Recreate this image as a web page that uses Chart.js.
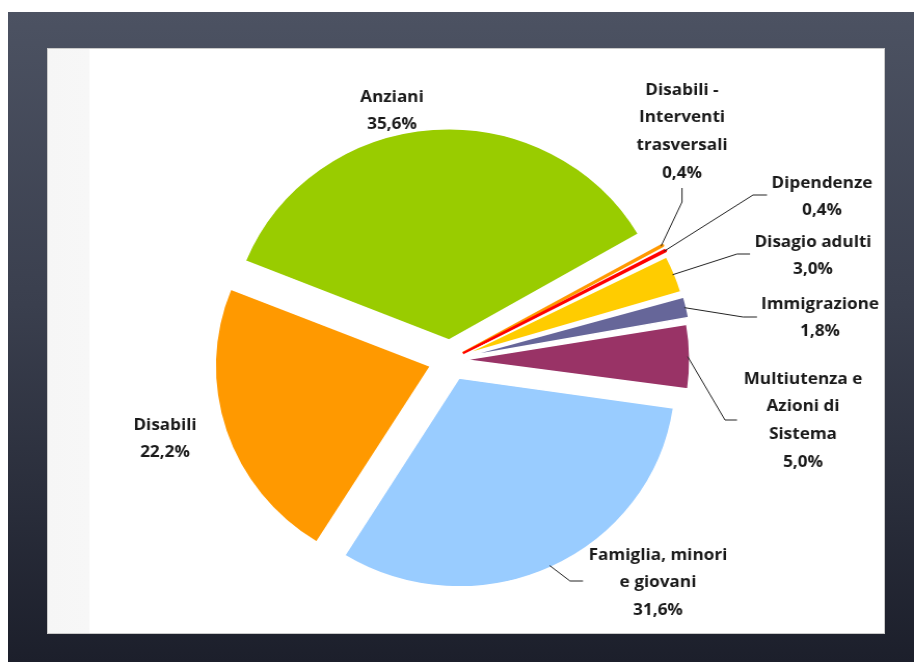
<!DOCTYPE html>
<html>
<head>
<meta charset="utf-8">
<script src="https://cdn.jsdelivr.net/npm/chart.js@4/dist/chart.umd.min.js"></script>
<style>
  body { margin: 0; background: #fff; width: 914px; height: 662px; overflow: hidden; position: relative; }
  .frame { position: absolute; left: 8px; top: 12px; width: 906px; height: 650px;
           background: linear-gradient(#4c5262, #3a3f4e 45%, #1c1f2b); }
  .panel { position: absolute; left: 47px; top: 48px; width: 836px; height: 584px;
           background: linear-gradient(90deg, #f6f6f6 0, #f7f7f7 41px, #fff 42px);
           border: 1px solid #c9c9c9; }
  canvas { position: absolute; left: 0; top: 0; }
</style>
</head>
<body>
<div class="frame"></div>
<div class="panel"></div>
<!-- the original picture is a little wider than tall, so the canvas is stretched -->
<canvas id="pie" width="880" height="662" style="width:914px;height:662px"></canvas>
<script>
/* data, clockwise from the thin slices at upper right */
const categories = [
  "Disabili - Interventi trasversali",
  "Dipendenze",
  "Disagio adulti",
  "Immigrazione",
  "Multiutenza e Azioni di Sistema",
  "Famiglia, minori e giovani",
  "Disabili",
  "Anziani"
];
const shares = [0.4, 0.4, 3.0, 1.8, 5.0, 31.6, 22.2, 35.6];
const percentLabels = ["0,4%", "0,4%", "3,0%", "1,8%", "5,0%", "31,6%", "22,2%", "35,6%"];
const nameLines = [
  ["Disabili -", "Interventi", "trasversali"],
  ["Dipendenze"],
  ["Disagio adulti"],
  ["Immigrazione"],
  ["Multiutenza e", "Azioni di", "Sistema"],
  ["Famiglia, minori", "e giovani"],
  ["Disabili"],
  ["Anziani"]
];
const colors = ["#ff9900", "#ff0000", "#ffcc00", "#666699", "#993366", "#99ccff", "#ff9900", "#99cc00"];

const SX = 914 / 880; // horizontal stretch of the canvas

// label placement in page pixels (text centre x, first line y) + leader elbow/end
const labelLayout = [
  { x: 682, y: 90,  leader: [[682, 202], [682, 188]] },
  { x: 822, y: 183, leader: [[753, 195], [767, 195]] },
  { x: 813, y: 242, leader: [[737, 254], [750, 254]] },
  { x: 820, y: 304, leader: [[743, 317], [757, 317]] },
  { x: 803, y: 379, leader: [[725, 420], [737, 420]] },
  { x: 658, y: 555, leader: [[570, 581], [583, 581]] },
  { x: 165, y: 425, leader: null },
  { x: 392, y: 97,  leader: null }
];

const labelPlugin = {
  id: 'pieLabels',
  afterDatasetsDraw(chart) {
    const ctx = chart.ctx;
    const arcs = chart.getDatasetMeta(0).data;
    ctx.save();
    ctx.font = "bold 16.5px 'Open Sans'";
    ctx.fillStyle = "#1a1a1a";
    ctx.textAlign = "center";
    ctx.textBaseline = "middle";
    arcs.forEach((arc, i) => {
      const lay = labelLayout[i];
      const lines = nameLines[i].concat([percentLabels[i]]);
      lines.forEach((t, k) => ctx.fillText(t, lay.x / SX, lay.y + k * 27.6));
      if (lay.leader) {
        const p = arc.getProps(['x', 'y', 'startAngle', 'endAngle', 'outerRadius', 'circumference']);
        const mid = (p.startAngle + p.endAngle) / 2;
        const t = (arc.options.offset || 0) / 4;
        const grow = t * (1 - Math.sin(Math.min(Math.PI, p.circumference)));
        const r = p.outerRadius + t + grow - 2;
        ctx.beginPath();
        ctx.strokeStyle = "#222";
        ctx.lineWidth = 1;
        ctx.moveTo(p.x + Math.cos(mid) * r, p.y + Math.sin(mid) * r);
        lay.leader.forEach(pt => ctx.lineTo(pt[0] / SX, pt[1]));
        ctx.stroke();
      }
    });
    ctx.restore();
  }
};

new Chart(document.getElementById('pie'), {
  type: 'pie',
  data: {
    labels: categories,
    datasets: [{
      data: shares,
      backgroundColor: colors,
      // the two 0,4% wedges get a stroke in their own colour so they stay visible
      borderColor: ['#ff9900', '#ff0000', '#fff', '#fff', '#fff', '#fff', '#fff', '#fff'],
      borderWidth: [2.5, 2.5, 1.5, 1.5, 1.5, 1.5, 1.5, 1.5],
      offset: [56, 56, 56, 56, 56, 80, 80, 80]
    }]
  },
  options: {
    responsive: false,
    animation: false,
    rotation: 60,
    radius: 207,
    layout: { padding: { left: 90, right: 103, top: 136, bottom: 78 } },
    plugins: { legend: { display: false }, tooltip: { enabled: false } }
  },
  plugins: [labelPlugin]
});
</script>
</body>
</html>
